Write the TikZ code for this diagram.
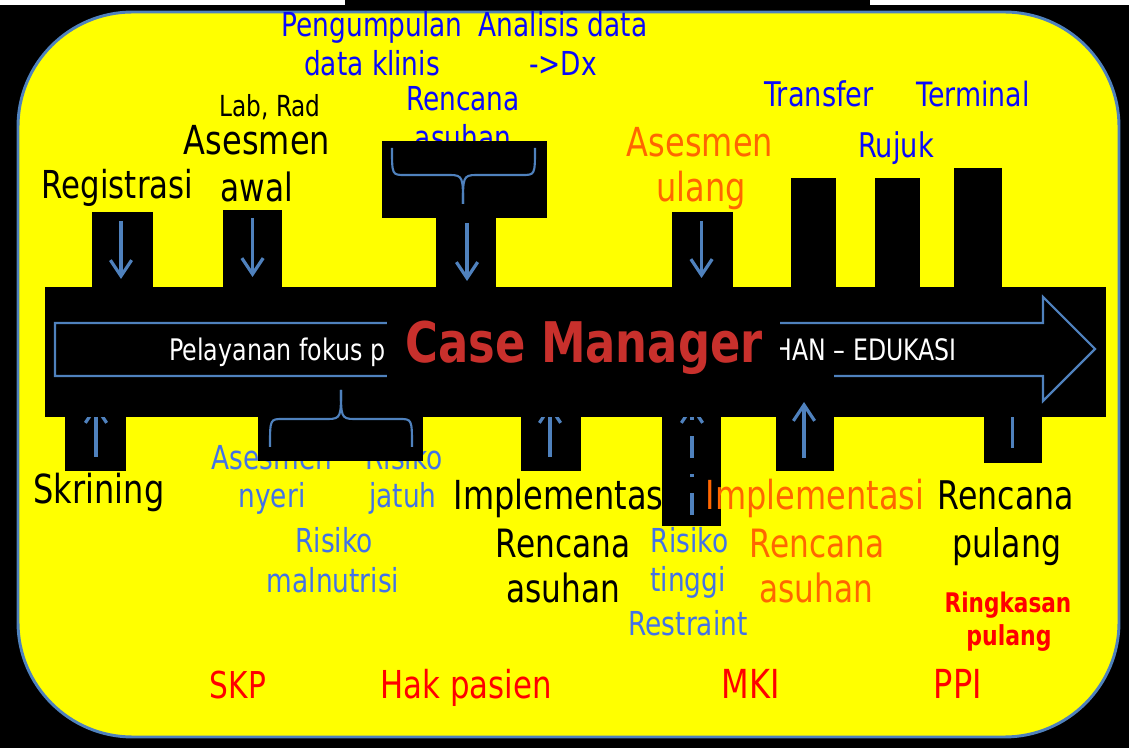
\documentclass[tikz,border=0pt]{standalone}
\usepackage{fontspec}
\setmainfont{DejaVu Sans}[FakeStretch=0.8]
\usetikzlibrary{arrows.meta}
\definecolor{steel}{RGB}{79,129,189}
\definecolor{tblue}{RGB}{10,10,250}
\definecolor{lblue}{RGB}{66,114,232}
\definecolor{orng}{RGB}{255,102,0}
\definecolor{cmred}{RGB}{200,48,44}
\definecolor{yel}{RGB}{255,255,0}
\definecolor{pred}{RGB}{255,0,0}
\newcommand\fpx[1]{\pgfmathsetmacro\fpxs{#1*0.75}\fontsize{\fpxs pt}{\fpxs pt}\selectfont}
\begin{document}
\begin{tikzpicture}[x=0.75pt,y=-0.75pt,
  txt/.style={inner sep=0pt,anchor=base},
  blk/.style={fill=black,draw=none},
  ln/.style={draw=steel,line width=2.4pt},
  arr/.style={ln,-{Straight Barb[length=12pt,width=16pt]}},
  brc/.style={draw=steel,line width=1.6pt},
  t33/.style={txt,font=\fpx{33}},
  t39/.style={txt,font=\fpx{39}},
  t40/.style={txt,font=\fpx{40}}]
\useasboundingbox (0,0) rectangle (1129,748);
% background
\fill[black] (0,0) rectangle (1129,748);
\fill[white] (0,0) rectangle (345,5);
\fill[white] (870,0) rectangle (1129,5);
% yellow panel
\path[fill=yel,draw=steel,line width=2.2pt,rounded corners=86pt] (18,12) rectangle (1119,737);

% texts partly hidden later
\node[t33,text=tblue] (renB) at (463,150) {asuhan};
\node[t33,text=lblue] (anyA) at (272,470) {Asesmen};
\node[t33,text=lblue] (rjA) at (404,470) {Risiko};
\node[t40] (impA) at (563,510) {Implementasi};

% lower boxes and their arrows (tips hidden by band)
\fill[blk] (65,410) rectangle (126,471);
\fill[blk] (258,410) rectangle (423,461);
\fill[blk] (521,410) rectangle (581,471);
\fill[blk] (662,410) rectangle (721,526);
\fill[blk] (984,410) rectangle (1042,463);
\coordinate (skS) at (96,457);  \coordinate (skT) at (96,404);
\coordinate (imS) at (550,457); \coordinate (imT) at (550,404);
\coordinate (rtS) at (692,515); \coordinate (rtT) at (692,404);
\coordinate (rpS) at (1012.5,448); \coordinate (rpT) at (1012.5,392);
\draw[arr] (skS) -- (skT);
\draw[arr] (imS) -- (imT);
\draw[arr,dash pattern=on 16.5pt off 12pt on 2.3pt off 12pt] (rtS) -- (rtT);
\draw[arr] (rpS) -- (rpT);

% band
\fill[blk] (45,287) rectangle (1106,417);
\draw[brc] (55,323) -- (1043,323) -- (1043,297) -- (1095,349) -- (1043,401) -- (1043,376) -- (55,376) -- cycle;
\node[txt,anchor=base west,text=white,font=\fpx{29.7}] (pel) at (169,361) {Pelayanan fokus p};
\node[txt,anchor=base east,text=white,font=\fpx{29.5}] (han) at (957,361) {HAN – EDUKASI};
% case manager picture
\fill[blk] (387,288) rectangle (780,416);
\node[txt,text=cmred,font=\bfseries\fpx{56}] (cm) at (584,363) {Case Manager};
% MKI box over band
\fill[blk] (776,372) rectangle (834,471);
\coordinate (mkS) at (804,458); \coordinate (mkT) at (804,402);
\draw[arr] (mkS) -- (mkT);

% upper boxes
\fill[blk] (92,212) rectangle (153,288);
\fill[blk] (223,210) rectangle (282,288);
\fill[blk] (382,141) rectangle (547,218);
\fill[blk] (436,217) rectangle (496,288);
\fill[blk] (672,212) rectangle (733,288);
\fill[blk] (791,178) rectangle (836,288);
\fill[blk] (875,178) rectangle (920,288);
\fill[blk] (954,168) rectangle (1002,288);
\coordinate (rgS) at (121,221); \coordinate (rgT) at (121,279);
\coordinate (awS) at (252.5,218); \coordinate (awT) at (252.5,277);
\coordinate (raS) at (467,223); \coordinate (raT) at (467,281);
\coordinate (auS) at (701.5,221); \coordinate (auT) at (701.5,278);
\draw[arr] (rgS) -- (rgT);
\draw[arr] (awS) -- (awT);
\draw[arr] (raS) -- (raT);
\draw[arr] (auS) -- (auT);

% braces
\draw[brc] (392,148) .. controls (392,175) and (392,175) .. (405,175) -- (450,175) .. controls (463,175) and (463,178) .. (463,204);
\draw[brc] (535,148) .. controls (535,175) and (535,175) .. (522,175) -- (476,175) .. controls (463,175) and (463,178) .. (463,204);
\draw[brc] (270,447) .. controls (270,419) and (270,419) .. (283,419) -- (328,419) .. controls (341,419) and (341,416) .. (341,390);
\draw[brc] (412,447) .. controls (412,419) and (412,419) .. (399,419) -- (354,419) .. controls (341,419) and (341,416) .. (341,390);

% top texts
\node[t33,text=tblue] (pengA) at (372,37) {Pengumpulan};
\node[t33,text=tblue] (pengB) at (372,76) {data klinis};
\node[t33,text=tblue] (anaA) at (563,37) {Analisis data};
\node[t33,text=tblue] (anaB) at (563,76) {->Dx};
\node[txt,font=\fpx{29}] (labrad) at (270,117) {Lab, Rad};
\node[t40] (aseA) at (257,155) {Asesmen};
\node[t39] (aseB) at (257,202) {awal};
\node[txt,font=\fpx{38.5}] (reg) at (117.5,199) {Registrasi};
\node[t33,text=tblue] (renA) at (463,111) {Rencana};
\node[txt,text=tblue,font=\fpx{34}] (transfer) at (819,107) {Transfer};
\node[txt,text=tblue,font=\fpx{33.5}] (terminal) at (973,107) {Terminal};
\node[txt,text=tblue,font=\fpx{34}] (rujuk) at (896,158) {Rujuk};
\node[t40,text=orng] (auA) at (700,157) {Asesmen};
\node[t40,text=orng] (auB) at (701,202) {ulang};

% bottom texts
\node[t40] (skr) at (99,504) {Skrining};
\node[t33,text=lblue] (anyB) at (272,508) {nyeri};
\node[t33,text=lblue] (rjB) at (403,508) {jatuh};
\node[t33,text=lblue] (rmA) at (334,553) {Risiko};
\node[t33,text=lblue] (rmB) at (333,593) {malnutrisi};
\node[t39] (impB) at (563,557) {Rencana};
\node[t39] (impC) at (563,603) {asuhan};
\node[t33,text=lblue] (rtA) at (689.5,552) {Risiko};
\node[t33,text=lblue] (rtB) at (688,592) {tinggi};
\node[t33,text=lblue] (rtC) at (688,635) {Restraint};
\node[t40,text=orng] (oiA) at (815,510) {Implementasi};
\node[t39,text=orng] (oiB) at (817,557) {Rencana};
\node[t39,text=orng] (oiC) at (816,603) {asuhan};
\node[txt,font=\fpx{39.5}] (rpA) at (1006,510) {Rencana};
\node[txt,font=\fpx{39.5}] (rpB) at (1007,557) {pulang};
\node[txt,text=pred,font=\bfseries\fpx{27}] (rkA) at (1008,613) {Ringkasan};
\node[txt,text=pred,font=\bfseries\fpx{27.5}] (rkB) at (1009,645) {pulang};
\node[txt,text=pred,font=\fpx{37}] (skp) at (238,698) {SKP};
\node[txt,text=pred,font=\fpx{38.5}] (hak) at (466,698) {Hak pasien};
\node[t40,text=pred] (mki) at (751,698) {MKI};
\node[t40,text=pred] (ppi) at (958,698) {PPI};
\end{tikzpicture}
\end{document}
